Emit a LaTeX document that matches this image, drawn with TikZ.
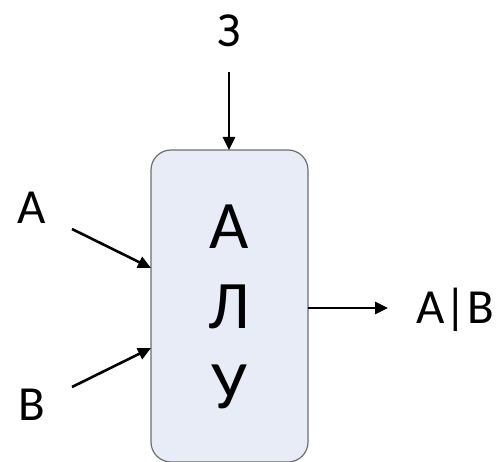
\documentclass[tikz,border=0pt]{standalone}
\usepackage{fontspec}
\setmainfont{Carlito}
\usetikzlibrary{arrows.meta}
\definecolor{boxfill}{HTML}{E8ECF6}
\definecolor{boxline}{HTML}{6E6E6E}
\tikzset{
  lbl/.style={inner sep=0pt, font=\fontsize{49}{50}\selectfont},
  inlbl/.style={inner sep=0pt, font=\fontsize{68}{70}\selectfont},
  arr/.style={line width=2.6pt, -{Triangle[length=13pt,width=12pt]}},
  alu/.style={draw=boxline, fill=boxfill, line width=1.2pt, rounded corners=20pt}
}
\begin{document}
\begin{tikzpicture}[x=1pt,y=-1pt]
\useasboundingbox (0,0) rectangle (500,462);
\draw[alu] (151,150) rectangle (308,462);
\coordinate (boxtop) at (229,150);
\coordinate (boxinA) at (151,268);
\coordinate (boxinB) at (151,348);
\coordinate (boxout) at (308,308);
\node[lbl] (z) at (229,31) {З};
\coordinate (zend) at (229,72);
\node[lbl] (a) at (32,208) {А};
\coordinate (aend) at (72,229);
\node[lbl] (b) at (32,405) {В};
\coordinate (bend) at (72,387);
\node[lbl, anchor=base] (out) at (455,323) {А|В};
\coordinate (outend) at (388,308);
\node[inlbl] (l1) at (229,227) {А};
\node[inlbl] (l2) at (229,307) {Л};
\node[inlbl] (l3) at (229,387) {У};
\draw[arr] (zend) -- (boxtop);
\draw[arr] (aend) -- (boxinA);
\draw[arr] (bend) -- (boxinB);
\draw[arr] (boxout) -- (outend);
\end{tikzpicture}
\end{document}
